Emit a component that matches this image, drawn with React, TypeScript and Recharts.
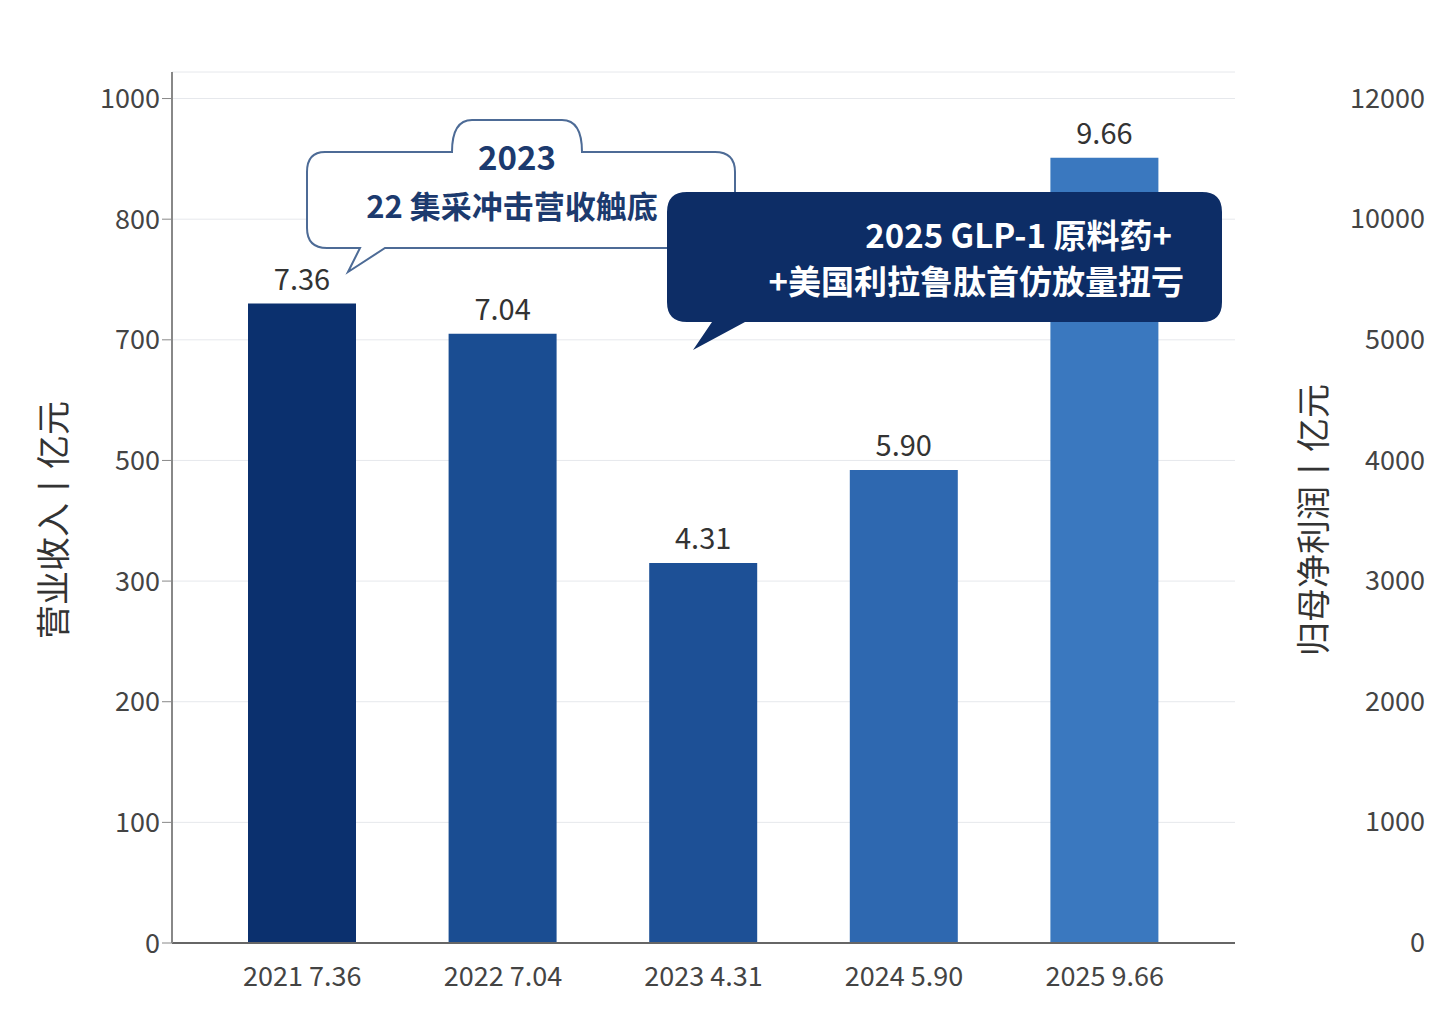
import { BarChart, Bar, XAxis, YAxis, CartesianGrid, LabelList, Cell } from 'recharts';

const years = ['2021', '2022', '2023', '2024', '2025'];
const revenue = [730, 705, 330, 484, 902];
const revenueLabels = ['7.36', '7.04', '4.31', '5.90', '9.66'];
const barColors = ['#0b306e', '#1a4d92', '#1d5096', '#2e68b0', '#3a78bf'];
const leftTicks = [0, 100, 200, 300, 500, 700, 800, 1000];
const rightTicks = [0, 1000, 2000, 3000, 4000, 5000, 10000, 12000];

// the printed left axis is not linear: ticks are evenly spaced, so map value -> tick slot
function toSlot(v: number) {
  for (let i = 1; i < leftTicks.length; i++) {
    if (v <= leftTicks[i]) {
      return i - 1 + (v - leftTicks[i - 1]) / (leftTicks[i] - leftTicks[i - 1]);
    }
  }
  return leftTicks.length - 1;
}

const data = years.map((y, i) => ({
  name: `${y} ${revenueLabels[i]}`,
  slot: toSlot(revenue[i]),
  label: revenueLabels[i],
}));

const FONT = '"Noto Sans CJK SC", "Noto Sans", sans-serif';

function renderRightTick(props: any) {
  const { y, payload } = props;
  return (
    <text key={payload.value} x={1425} y={y} dy={9} textAnchor="end" fontSize={27} fill="#444" fontFamily={FONT}>
      {rightTicks[payload.value]}
    </text>
  );
}

export default function App() {
  return (
    <div style={{ position: 'absolute', left: 0, top: 0, width: 1440, height: 1025, background: '#fff', fontFamily: FONT }}>
      <BarChart width={1440} height={1025} data={data} margin={{ top: 72, right: 0, left: 0, bottom: 0 }}>
        <CartesianGrid stroke="#e6e8ec" vertical={false} yAxisId="l" />
        <XAxis
          dataKey="name"
          height={82}
          padding={{ left: 30, right: 30 }}
          tick={{ fill: '#444', fontSize: 27, fontFamily: FONT }}
          tickLine={false}
          axisLine={{ stroke: '#666', strokeWidth: 2 }}
          tickMargin={18}
        />
        <YAxis
          yAxisId="l"
          width={172}
          domain={[0, 7.22]}
          ticks={[0, 1, 2, 3, 4, 5, 6, 7]}
          tickFormatter={(v: number) => String(leftTicks[v])}
          tick={{ fill: '#444', fontSize: 27, fontFamily: FONT }}
          tickLine={{ stroke: '#888' }}
          tickSize={10}
          axisLine={{ stroke: '#888', strokeWidth: 2 }}
        />
        <YAxis
          yAxisId="r"
          orientation="right"
          width={205}
          domain={[0, 7.22]}
          ticks={[0, 1, 2, 3, 4, 5, 6, 7]}
          tick={renderRightTick}
          tickLine={false}
          axisLine={false}
        />
        <Bar yAxisId="l" dataKey="slot" barSize={108} isAnimationActive={false}>
          {data.map((d, i) => (
            <Cell key={d.name} fill={barColors[i]} />
          ))}
          <LabelList dataKey="label" position="top" offset={14} fill="#333" fontSize={29} fontFamily={FONT} />
        </Bar>
      </BarChart>
      <svg width={1440} height={1025} style={{ position: 'absolute', left: 0, top: 0, pointerEvents: 'none' }}>
        {rightTicks.map((t, i) => (
          <text key={t} x={1425} y={943 - i * 120.6} dy={9} textAnchor="end" fontSize={27} fill="#444" fontFamily={FONT}>
            {t}
          </text>
        ))}
        <path
          d="M325 152 H452 Q452 120 472 120 H562 Q582 120 582 152 H715 Q735 152 735 172 V228 Q735 248 715 248 H385 L348 272 L360 248 H327 Q307 248 307 228 V172 Q307 152 325 152 Z"
          fill="#fff"
          stroke="#4d6b96"
          strokeWidth={2}
        />
        <text x={517} y={170} textAnchor="middle" fontSize={33} fontWeight={700} fill="#1c3a6e" fontFamily={FONT}>2023</text>
        <text x={512} y={218} textAnchor="middle" fontSize={31} fontWeight={700} fill="#1c3a6e" fontFamily={FONT}>22 集采冲击营收触底</text>
        <path
          d="M687 192 H1202 Q1222 192 1222 212 V302 Q1222 322 1202 322 H745 L693 350 L712 322 H687 Q667 322 667 302 V212 Q667 192 687 192 Z"
          fill="#0d2d66"
        />
        <text x={1172} y={248} textAnchor="end" fontSize={33} fontWeight={700} fill="#fff" fontFamily={FONT}>2025 GLP-1 原料药+</text>
        <text x={1184} y={294} textAnchor="end" fontSize={33} fontWeight={700} fill="#fff" fontFamily={FONT}>+美国利拉鲁肽首仿放量扭亏</text>
        <text transform="translate(66 520) rotate(-90)" textAnchor="middle" fontSize={34} fill="#333" fontFamily={FONT}>营业收入丨亿元</text>
        <text transform="translate(1326 520) rotate(-90)" textAnchor="middle" fontSize={34} fill="#333" fontFamily={FONT}>归母净利润丨亿元</text>
      </svg>
    </div>
  );
}
